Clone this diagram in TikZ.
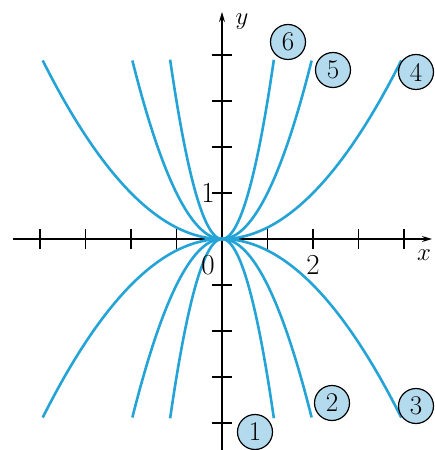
\documentclass[tikz,border=0pt]{standalone}
\usetikzlibrary{arrows.meta}
\definecolor{curvecol}{RGB}{36,164,214}
\definecolor{labcol}{RGB}{180,218,238}
\begin{document}
\begin{tikzpicture}[x=45.5pt,y=46pt,
  axis/.style={line width=1.4pt,-{Stealth[length=10pt,width=6pt]}},
  tickmark/.style={line width=1.1pt},
  parab/.style={draw=curvecol,line width=2.6pt,smooth,samples=80},
  num/.style={font=\fontsize{29}{31}\selectfont},
  badge/.style={circle,draw=black,line width=1.2pt,fill=labcol,minimum size=35pt,inner sep=0pt,font=\fontsize{27}{29}\selectfont}]
\useasboundingbox (-222pt,-211pt) rectangle (212pt,239pt);
% axes
\coordinate (xs) at (-209pt,0);
\coordinate (xe) at (210pt,0);
\coordinate (ys) at (0,-212pt);
\coordinate (ye) at (0,227pt);
\draw[axis] (xs) -- (xe);
\draw[axis] (ys) -- (ye);
\foreach \i in {-4,-3,-2,-1,1,2,3,4} {
  \draw[tickmark] (\i,-10pt) -- (\i,10pt);
  \draw[tickmark] (-10pt,\i) -- (10pt,\i);
}
% curves
\draw[parab,domain=-3.94:3.94] plot (\x,{0.25*\x*\x});
\draw[parab,domain=-1.97:1.97] plot (\x,{\x*\x});
\draw[parab,domain=-1.14:1.14] plot (\x,{3*\x*\x});
\draw[parab,domain=-3.94:3.94] plot (\x,{-0.25*\x*\x});
\draw[parab,domain=-1.97:1.97] plot (\x,{-\x*\x});
\draw[parab,domain=-1.14:1.14] plot (\x,{-3*\x*\x});
% axis labels
\node[num] (l0) at (-14pt,-26pt) {0};
\node[num] (l2) at (2,-26pt) {2};
\node[num] (l1) at (-14pt,1) {1};
\node[num] (ly) at (20pt,217pt) {$y$};
\node[num] (lx) at (202pt,-16pt) {$x$};
% badges
\node[badge] (b6) at (66pt,197pt) {6};
\node[badge] (b5) at (111pt,169pt) {5};
\node[badge] (b4) at (194pt,167pt) {4};
\node[badge] (b1) at (33pt,-193pt) {1};
\node[badge] (b2) at (110pt,-164pt) {2};
\node[badge] (b3) at (194pt,-167pt) {3};
\end{tikzpicture}
\end{document}
